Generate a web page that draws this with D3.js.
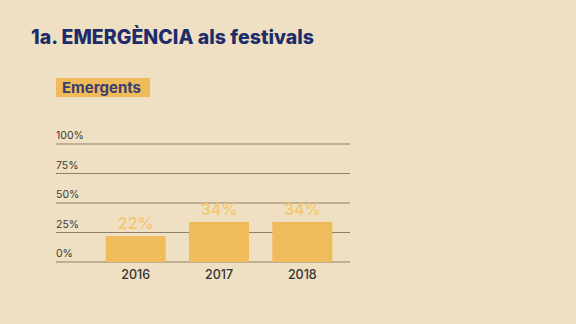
<!DOCTYPE html>
<html>
<head>
<meta charset="utf-8">
<script src="https://cdn.jsdelivr.net/npm/d3@7"></script>
<style>
  html, body { margin: 0; padding: 0; background: #efe0c3; }
  svg { display: block; font-family: Inter, "Open Sans", sans-serif; }
</style>
</head>
<body>
<svg id="chart" width="576" height="324"></svg>
<script>
const years = ["2016", "2017", "2018"];
const emergents = [22, 34, 34];
const tickValues = [0, 25, 50, 75, 100];
const tickLabels = ["0%", "25%", "50%", "75%", "100%"];

const svg = d3.select("#chart");
const W = 576, H = 324;

svg.append("rect").attr("width", W).attr("height", H).attr("fill", "#efe0c3");

// Title
svg.append("text")
  .attr("x", 31).attr("y", 43.5)
  .attr("fill", "#202c6a")
  .attr("font-size", 19.5)
  .attr("font-weight", 800)
  .attr("textLength", 283)
  .text("1a. EMERGÈNCIA als festivals");

// Legend tag
svg.append("rect")
  .attr("x", 56).attr("y", 78).attr("width", 94).attr("height", 19)
  .attr("fill", "#f0bb5a");
svg.append("text")
  .attr("x", 62).attr("y", 92.5)
  .attr("fill", "#3b3f70")
  .attr("font-size", 15)
  .attr("font-weight", 700)
  .text("Emergents");

// Scales
const x = d3.scaleBand().domain(years).range([94, 344]).paddingInner(0.28).paddingOuter(0.14);
const y = d3.scaleLinear().domain([0, 100]).range([262, 144]);

// Gridlines and tick labels
const grid = svg.append("g");
grid.selectAll("line").data(tickValues).join("line")
  .attr("x1", 56).attr("x2", 350)
  .attr("y1", d => y(d)).attr("y2", d => y(d))
  .attr("stroke", "#8f7f66").attr("stroke-width", 1);
grid.selectAll("text").data(tickValues).join("text")
  .attr("x", 56).attr("y", d => y(d) - 5)
  .attr("fill", "#3a3a3a")
  .attr("font-size", 10.5)
  .text((d, i) => tickLabels[i]);

// Bars
svg.append("g").selectAll("rect").data(emergents).join("rect")
  .attr("x", (d, i) => x(years[i]))
  .attr("y", d => y(d))
  .attr("width", x.bandwidth())
  .attr("height", d => y(0) - y(d))
  .attr("fill", "#f0bb5a");

// Value labels
svg.append("g").selectAll("text").data(emergents).join("text")
  .attr("x", (d, i) => x(years[i]) + x.bandwidth() / 2)
  .attr("y", d => y(d) - 7)
  .attr("text-anchor", "middle")
  .attr("fill", "#f3c870")
  .attr("font-size", 16)
  .attr("font-weight", 600)
  .text(d => d + "%");

// Year labels
svg.append("g").selectAll("text").data(years).join("text")
  .attr("x", d => x(d) + x.bandwidth() / 2)
  .attr("y", 279)
  .attr("text-anchor", "middle")
  .attr("fill", "#333333")
  .attr("font-size", 12.5)
  .attr("font-weight", 500)
  .text(d => d);
</script>
</body>
</html>
